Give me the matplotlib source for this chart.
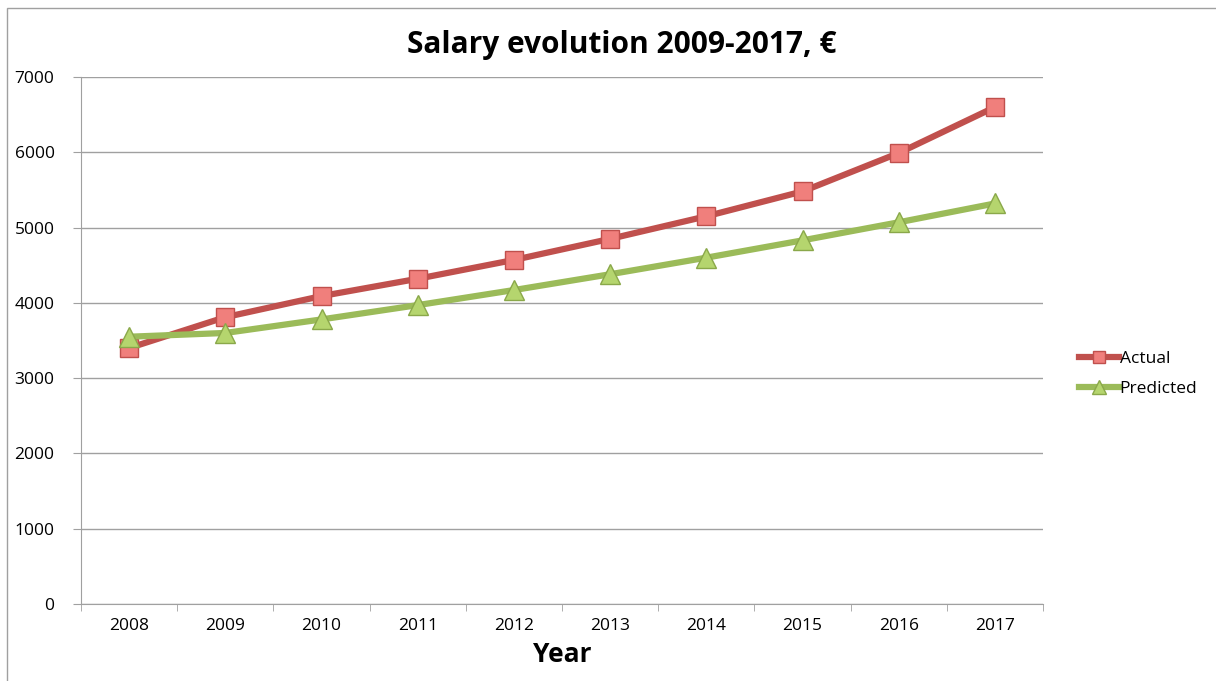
import numpy as np
import matplotlib.pyplot as plt
from matplotlib.patches import Rectangle

plt.rcParams['font.family'] = ['Open Sans', 'DejaVu Sans']

# === Data ===
years = ["2008", "2009", "2010", "2011", "2012", "2013", "2014", "2015", "2016", "2017"]
actual = [3400, 3810, 4090, 4320, 4570, 4850, 5150, 5480, 5990, 6600]
predicted = [3550, 3600, 3780, 3970, 4170, 4380, 4600, 4830, 5070, 5320]
yticks = [0, 1000, 2000, 3000, 4000, 5000, 6000, 7000]

W, H = 1216, 681
fig = plt.figure(figsize=(W / 100, H / 100), dpi=100)
ax = fig.add_axes([81 / W, 1 - 604 / H, (1043 - 81) / W, (604 - 77) / H])

# outer frame like the spreadsheet chart area
fig.patches.append(Rectangle((7 / W, -0.05), 1.2, 1 - 8 / H + 0.05,
                             transform=fig.transFigure, fill=False,
                             edgecolor="#a0a0a0", linewidth=1))

x = np.arange(len(years))
ax.plot(x, actual, color="#c0504d", linewidth=4.5, marker="s", markersize=13,
        markerfacecolor="#f07f7c", markeredgecolor="#c0504d", markeredgewidth=1,
        label="Actual", zorder=3)
ax.plot(x, predicted, color="#9bbb59", linewidth=4.5, marker="^", markersize=14,
        markerfacecolor="#b5d56e", markeredgecolor="#8aa84a", markeredgewidth=1,
        label="Predicted", zorder=3)

ax.set_xlim(-0.5, len(years) - 0.5)
ax.set_ylim(0, 7000)
ax.set_yticks(yticks)
ax.set_yticklabels([str(v) for v in yticks], fontsize=12.5)
ax.set_xticks(x)
ax.set_xticklabels(years, fontsize=12.5)
ax.set_xticks(np.arange(-0.5, len(years)), minor=True)
ax.tick_params(axis="x", which="major", length=0, pad=10)
ax.tick_params(axis="x", which="minor", length=5, color="#a0a0a0", direction="out")
ax.tick_params(axis="y", length=6, color="#a0a0a0", pad=13)

ax.yaxis.grid(True, color="#a0a0a0", linewidth=1)
ax.set_axisbelow(True)
for side in ["top", "right"]:
    ax.spines[side].set_visible(False)
for side in ["left", "bottom"]:
    ax.spines[side].set_color("#a0a0a0")

ax.set_xlabel("Year", fontsize=19, fontweight="bold", labelpad=5)
fig.text(622 / W, 1 - 45 / H, "Salary evolution 2009-2017, \u20ac", fontsize=21.5,
         fontweight="bold", ha="center", va="center")

ax.legend(loc="center left", bbox_to_anchor=(1.03, 0.436), frameon=False,
          fontsize=12.5, handlelength=2.3, handletextpad=0.05, labelspacing=0.78,
          markerscale=0.7, borderaxespad=0)

fig.savefig("out.png", dpi=100)
